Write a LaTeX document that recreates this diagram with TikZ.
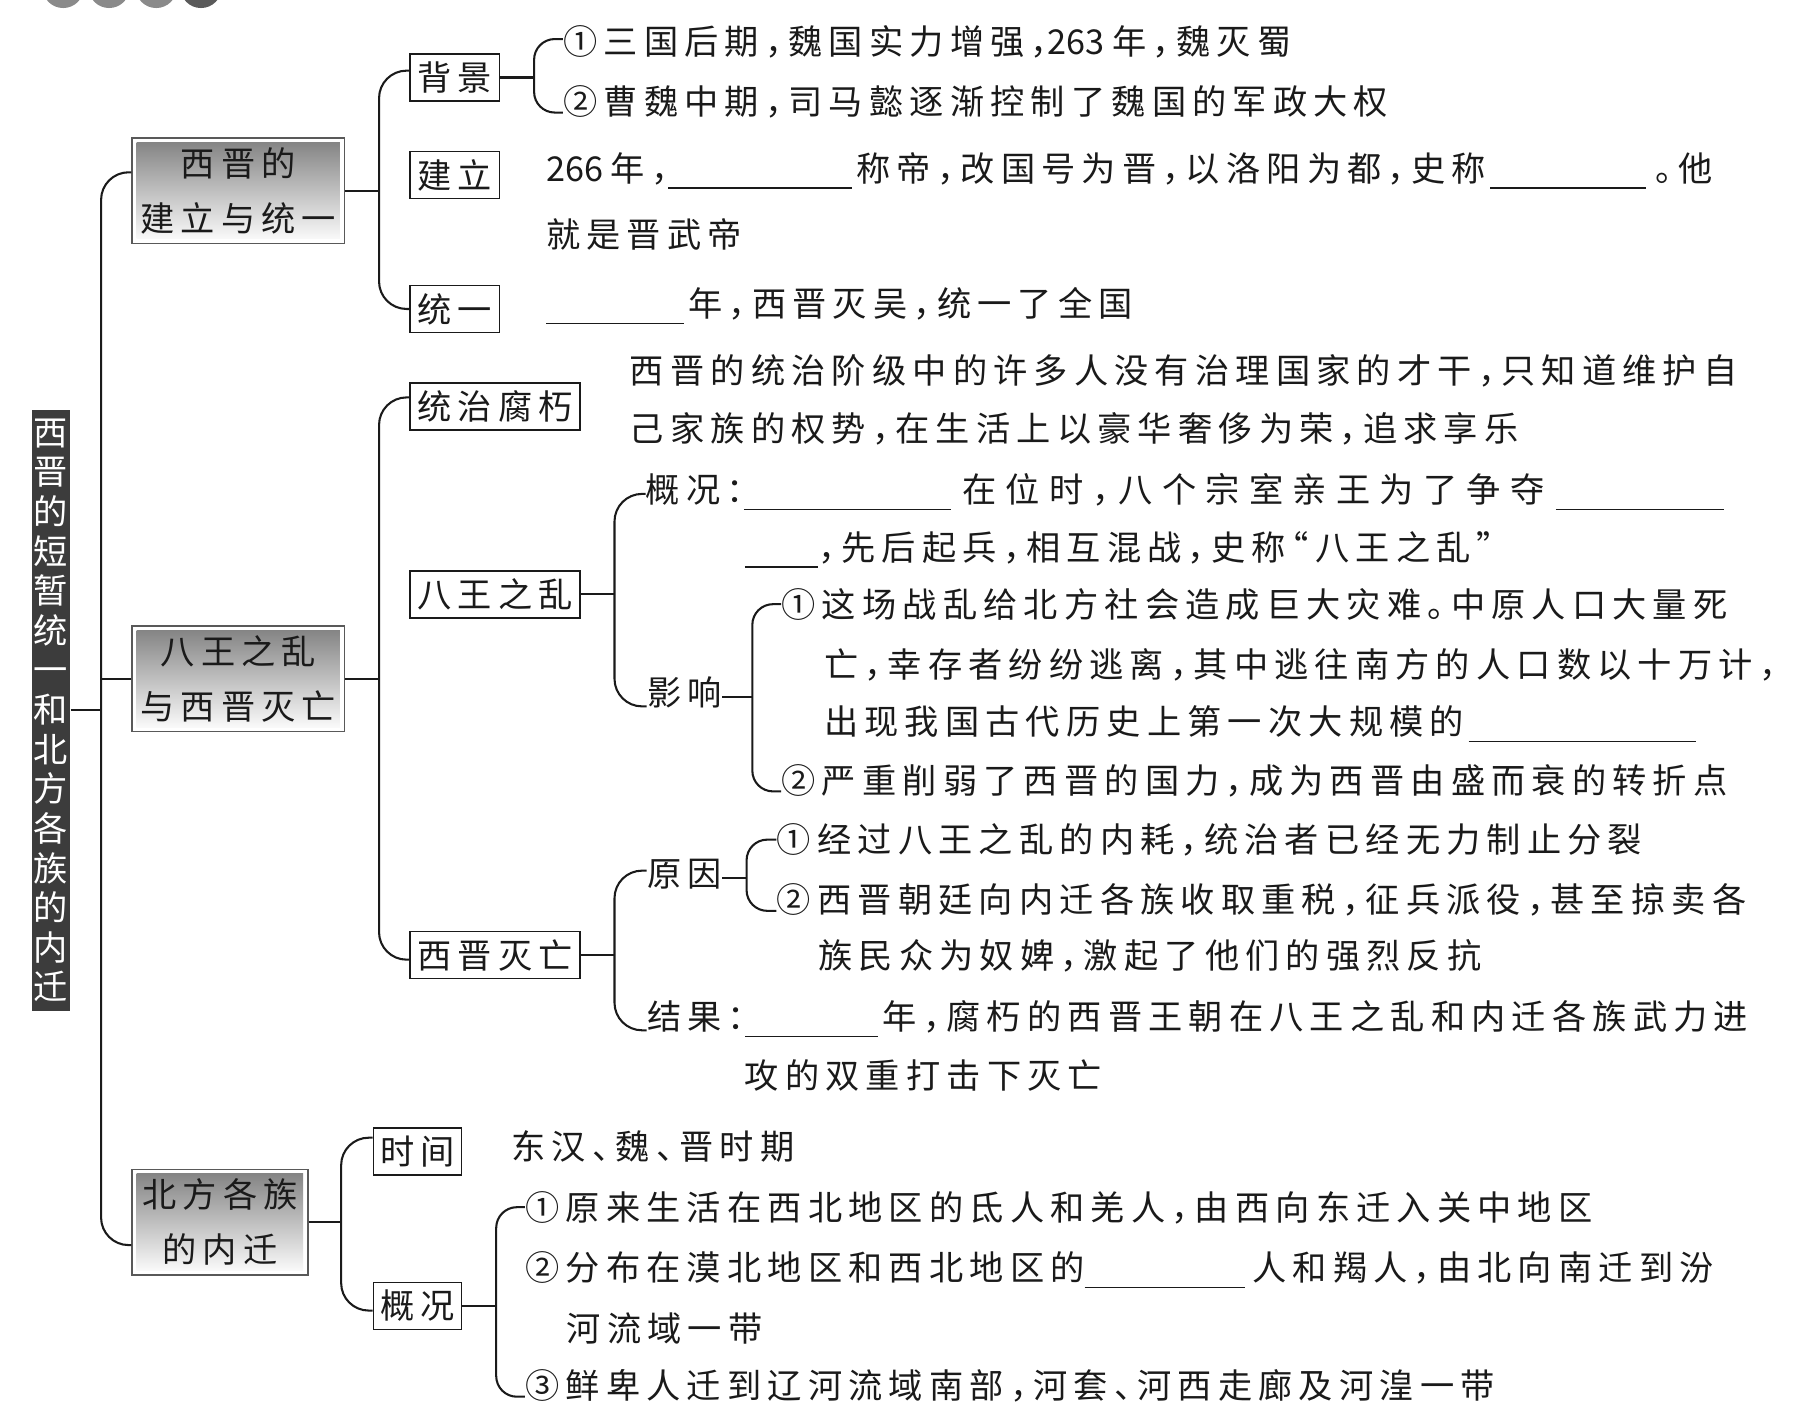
\documentclass[tikz,border=0pt]{standalone}
\usepackage{fontspec}
\newfontfamily\cjk{Noto Sans CJK SC}[LetterSpace=18,RawFeature=+halt]
\newfontfamily\cjkwide{Noto Sans CJK SC}[LetterSpace=27,RawFeature=+halt]
\newfontfamily\numfont{Noto Sans CJK SC}
\definecolor{ink}{HTML}{1A1A1A}
\definecolor{bar}{HTML}{3C3C3C}
\definecolor{shade}{HTML}{C4C4C4}
\definecolor{dot}{HTML}{8A8A8A}
\definecolor{dotdark}{HTML}{5A5A5A}
\newcommand\blank[1]{\rule[-0.22em]{#1}{0.5pt}}
\newcommand\nm[1]{{\numfont#1}}
\tikzset{
  every node/.style={font=\cjk\fontsize{14.9}{17}\selectfont,text=ink},
  ln/.style={draw=ink,line width=0.9pt},
  trk/.style={ln,rounded corners=12pt},
  brc/.style={ln,rounded corners=9pt},
  kbox/.style={draw=ink,line width=0.6pt,fill=white,inner sep=0pt,minimum height=20.5pt},
  mbox/.style={draw=black!65,line width=0.6pt,fill=white,align=center,inner sep=0pt,
    minimum width=92.5pt,minimum height=46pt,font=\cjk\fontsize{14.9}{24}\selectfont,
    path picture={\fill[shade] ([shift={(2pt,2pt)}]path picture bounding box.south west)
      rectangle ([shift={(-2pt,-2pt)}]path picture bounding box.north east);}},
  titlebar/.style={fill=bar,text=white,align=center,inner sep=0pt,minimum width=16.5pt,
    minimum height=261.5pt,font=\cjk\fontsize{14.9}{17.25}\selectfont},
  txt/.style={anchor=west,inner sep=0pt,text height=0.88em,text depth=0.12em},
}

\begin{document}
\begin{tikzpicture}[x=0.5pt,y=-0.5pt]
\useasboundingbox (0,0) rectangle (1568,1236);
% dots cut by the top edge
\begin{scope}
\clip (0,0) rectangle (1568,1236);
\foreach \cx/\cc in {55/dot,95/dot,136/dot,175/dotdark}
  \fill[\cc] (\cx,-11) circle[radius=18];
\end{scope}

% title and main boxes
\node[titlebar] (root) at (44.5,618.5) {西\\晋\\的\\短\\暂\\统\\一\\和\\北\\方\\各\\族\\的\\内\\迁};
\node[mbox] (g1) at (207.5,166) {西晋的\\建立与统一};
\node[mbox] (g2) at (207.5,591) {八王之乱\\与西晋灭亡};
\node[mbox,minimum width=76.5pt] (g3) at (191.5,1064) {北方各族\\的内迁};

% small boxes
\node[kbox,minimum width=39pt] (bj) at (396,67.5) {背景};
\node[kbox,minimum width=39pt] (jl) at (396,152.5) {建立};
\node[kbox,minimum width=39pt] (ty) at (396,269) {统一};
\node[kbox,minimum width=74pt] (tz) at (431,354) {统治腐朽};
\node[kbox,minimum width=74pt] (bw) at (431,517.5) {八王之乱};
\node[kbox,minimum width=74pt] (mw) at (431,831.5) {西晋灭亡};
\node[kbox,minimum width=38.5pt] (sj) at (363.5,1002.5) {时间};
\node[kbox,minimum width=38.5pt] (gk) at (363.5,1137) {概况};

% texts
\node[txt] (bj1) at (490,40) {①三国后期，魏国实力增强，\nm{263 }年，魏灭蜀};
\node[txt] (bj2) at (490,92) {②曹魏中期，司马懿逐渐控制了魏国的军政大权};
\node[txt] (jl1) at (475,150) {\nm{266 }年，\blank{80pt}\hspace{2pt}称帝，改国号为晋，以洛阳为都，史称\hspace{2pt}\blank{68pt}\hspace{4pt}。他};
\node[txt] (jl2) at (475,208) {就是晋武帝};
\node[txt] (ty1) at (475,268) {\blank{60pt}\hspace{2pt}年，西晋灭吴，统一了全国};
\node[txt] (tz1) at (548,326) {西晋的统治阶级中的许多人没有治理国家的才干，只知道维护自};
\node[txt] (tz2) at (548,377) {己家族的权势，在生活上以豪华奢侈为荣，追求享乐};
\node[txt] (gs1) at (562,430) {概况：\blank{90pt}\hspace{5pt}{\cjkwide 在位时，八个宗室亲王为了争夺}\hspace{5pt}\blank{73pt}};
\node[txt] (gs2) at (648,480) {\blank{32pt}，先后起兵，相互混战，史称“八王之乱”};
\node[txt] (yx) at (563,607) {影响};
\node[txt] (yx1) at (680,530) {①这场战乱给北方社会造成巨大灾难。中原人口大量死};
\node[txt] (yx1b) at (717,582) {亡，幸存者纷纷逃离，其中逃往南方的人口数以十万计，};
\node[txt] (yx1c) at (717,632) {出现我国古代历史上第一次大规模的\hspace{2pt}\blank{99pt}};
\node[txt] (yx2) at (680,683) {②严重削弱了西晋的国力，成为西晋由盛而衰的转折点};
\node[txt] (yy) at (563,764) {原因};
\node[txt] (yy1) at (676,735) {①经过八王之乱的内耗，统治者已经无力制止分裂};
\node[txt] (yy2) at (676,787) {②西晋朝廷向内迁各族收取重税，征兵派役，甚至掠卖各};
\node[txt] (yy2b) at (712,836) {族民众为奴婢，激起了他们的强烈反抗};
\node[txt] (jg) at (563,889) {结果：\blank{58pt}\hspace{2pt}年，腐朽的西晋王朝在八王之乱和内迁各族武力进};
\node[txt] (jg2) at (648,940) {攻的双重打击下灭亡};
\node[txt] (sj1) at (445,1002) {东汉、魏、晋时期};
\node[txt] (gk1) at (457,1055) {①原来生活在西北地区的氐人和羌人，由西向东迁入关中地区};
\node[txt] (gk2) at (457,1107) {②分布在漠北地区和西北地区的\blank{70pt}\hspace{3pt}人和羯人，由北向南迁到汾};
\node[txt] (gk2b) at (493,1160) {河流域一带};
\node[txt] (gk3) at (457,1210) {③鲜卑人迁到辽河流域南部，河套、河西走廊及河湟一带};

% trunk lines
\coordinate (k0) at (88,0);
\coordinate (k1) at (330,0);
\coordinate (k2) at (465,0);
\coordinate (k4) at (535,0);
\coordinate (k5) at (655,0);
\coordinate (k6) at (650,0);
\coordinate (k7) at (297,0);
\coordinate (k8) at (432,0);

\coordinate (g1in) at ([yshift=8pt]g1.west);
\coordinate (g3in) at ([yshift=-10pt]g3.west);
\draw[ln] (root.east) -- (root.east -| k0);
\draw[trk] (g1in) -| (k0 |- g3in) -- (g3in);
\draw[ln] (g2.west) -- (g2.west -| k0);

% first part
\coordinate (bjin) at ([yshift=3pt]bj.west);
\draw[ln] (g1.east) -- (g1.east -| k1);
\draw[trk] (bjin) -| (k1 |- ty.west) -- (ty.west);
\coordinate (bj1in) at ([yshift=3pt]bj1.west);
\coordinate (bj2in) at ([yshift=-3pt]bj2.west);
\draw[ln] (bj.east) -- (bj.east -| k2);
\draw[brc] (bj1in) -| (k2 |- bj2in) -- (bj2in);

% second part
\coordinate (tzin) at ([yshift=4pt]tz.west);
\coordinate (mwin) at ([yshift=-2pt]mw.west);
\draw[ln] (g2.east) -- (g2.east -| k1);
\draw[trk] (tzin) -| (k1 |- mwin) -- (mwin);
\coordinate (yxin) at ([yshift=-4pt]yx.west);
\draw[ln] (bw.east) -- (bw.east -| k4);
\draw[trk] (gs1.west) -| (k4 |- yxin) -- (yxin);
\coordinate (yx1in) at ([yshift=2pt]yx1.west);
\coordinate (yx2in) at ([yshift=-3pt]yx2.west);
\draw[ln] (yx.east) -- (yx.east -| k5);
\draw[brc] (yx1in) -| (k5 |- yx2in) -- (yx2in);
\coordinate (yyin) at ([yshift=3pt]yy.west);
\coordinate (jgin) at ([yshift=-4pt]jg.west);
\draw[ln] (mw.east) -- (mw.east -| k4);
\draw[trk] (yyin) -| (k4 |- jgin) -- (jgin);
\coordinate (yy1in) at ([yshift=2pt]yy1.west);
\coordinate (yy2in) at ([yshift=-3pt]yy2.west);
\draw[ln] (yy.east) -- (yy.east -| k6);
\draw[brc] (yy1in) -| (k6 |- yy2in) -- (yy2in);

% third part
\coordinate (sjin) at ([yshift=6pt]sj.west);
\coordinate (gkin) at ([yshift=-2pt]gk.west);
\draw[ln] (g3.east) -- (g3.east -| k7);
\draw[trk] (sjin) -| (k7 |- gkin) -- (gkin);
\coordinate (gk1in) at ([yshift=2pt]gk1.west);
\coordinate (gk3in) at ([yshift=-3pt]gk3.west);
\draw[ln] (gk.east) -- (gk.east -| k8);
\draw[brc] (gk1in) -| (k8 |- gk3in) -- (gk3in);
\end{tikzpicture}
\end{document}
